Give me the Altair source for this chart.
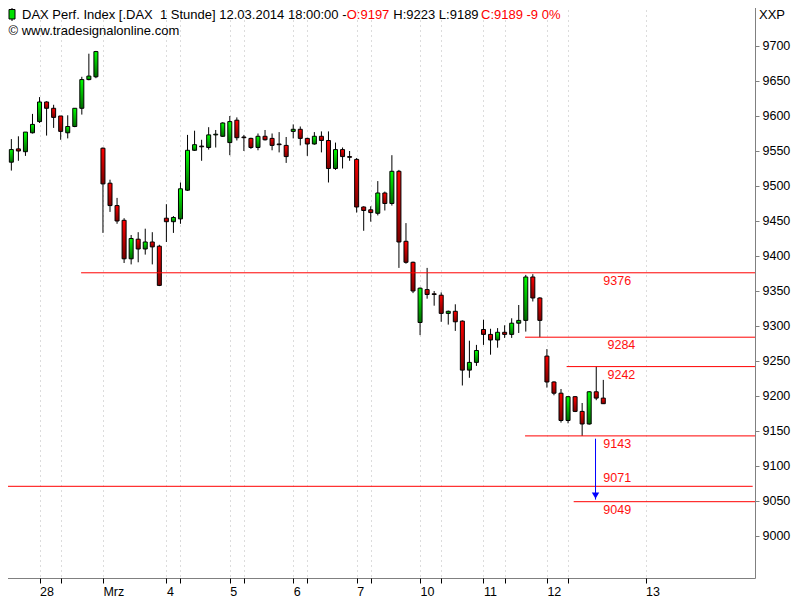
import altair as alt
import pandas as pd

# ---- candle data (hourly DAX) ----
opens = [9513, 9534, 9553, 9549, 9576, 9592, 9620, 9611, 9600, 9576, 9585, 9611, 9652, 9656,
         9554, 9504, 9472, 9451, 9396, 9424, 9410, 9420, 9414,
         9454, 9449, 9453, 9494, 9551, 9557, 9555, 9573, 9571,
         9562, 9594, 9570, 9568, 9555, 9571, 9568, 9560, 9558,
         9578, 9581, 9568, 9560, 9571, 9565, 9525, 9552, 9542,
         9538, 9470, 9466, 9461, 9490, 9475, 9521, 9421, 9391,
         9305, 9352, 9346, 9344, 9318, 9321, 9307, 9237, 9248,
         9295, 9288, 9280, 9291, 9288, 9304, 9308, 9370, 9340,
         9257, 9220, 9204, 9165, 9199, 9178, 9160, 9206, 9197]
highs = [9535, 9567, 9571, 9577, 9603, 9627, 9621, 9616, 9600, 9601, 9611, 9656, 9689, 9693,
         9555, 9509, 9483, 9454, 9430, 9434, 9439, 9434, 9416,
         9474, 9457, 9505, 9573, 9579, 9566, 9584, 9580, 9591,
         9600, 9598, 9573, 9569, 9575, 9580, 9575, 9577, 9570,
         9588, 9585, 9569, 9577, 9578, 9578, 9562, 9555, 9550,
         9540, 9471, 9471, 9507, 9492, 9544, 9523, 9447, 9392,
         9355, 9383, 9350, 9348, 9322, 9331, 9308, 9279, 9273,
         9309, 9296, 9297, 9301, 9311, 9330, 9373, 9374, 9341,
         9267, 9221, 9210, 9200, 9200, 9190, 9207, 9242, 9223]
lows = [9510, 9522, 9536, 9543, 9575, 9590, 9572, 9583, 9566, 9568, 9584, 9602, 9651, 9654,
        9433, 9463, 9446, 9390, 9388, 9391, 9402, 9388, 9357,
        9420, 9433, 9446, 9493, 9550, 9536, 9552, 9555, 9570,
        9544, 9565, 9550, 9553, 9551, 9565, 9551, 9548, 9533,
        9568, 9558, 9543, 9559, 9548, 9505, 9523, 9525, 9536,
        9462, 9436, 9449, 9458, 9465, 9472, 9383, 9389, 9347,
        9287, 9339, 9329, 9306, 9302, 9293, 9215, 9226, 9243,
        9273, 9259, 9269, 9283, 9283, 9290, 9292, 9335, 9284,
        9212, 9201, 9162, 9161, 9177, 9143, 9159, 9194, 9189]
closes = [9534, 9552, 9550, 9577, 9588, 9620, 9611, 9598, 9578, 9585, 9611, 9652, 9657, 9692,
          9503, 9472, 9450, 9396, 9425, 9410, 9420, 9413, 9358,
          9449, 9455, 9496, 9551, 9559, 9556, 9573, 9574, 9590,
          9592, 9569, 9569, 9555, 9571, 9566, 9558, 9559, 9542,
          9581, 9568, 9560, 9571, 9565, 9525, 9552, 9542, 9541,
          9470, 9465, 9462, 9490, 9475, 9521, 9420, 9391, 9350,
          9354, 9345, 9345, 9318, 9321, 9306, 9237, 9248, 9265,
          9288, 9280, 9291, 9288, 9304, 9308, 9370, 9340, 9308,
          9220, 9204, 9165, 9199, 9178, 9160, 9206, 9197, 9189]

# ---- axis ticks (candle index of day start, and secondary ticks) ----
day_ticks = [5, 14, 23, 32, 41, 50, 59, 68, 77, 91]
day_labels = ["28", "Mrz", "4", "5", "6", "7", "10", "11", "12", "13"]
minor_ticks = [8, 25, 34, 43, 52, 62, 71, 80]
price_ticks = list(range(9000, 9701, 50))

# ---- support / resistance levels ----
levels = [9376, 9284, 9242, 9143, 9071, 9049]
level_start = [10.9, 73.9, 79.8, 73.9, -0.61, 80.8]
level_end = [106.53, 106.53, 106.53, 106.53, 106.2, 106.53]
label_at = [85.0, 85.6, 85.6, 85.0, 85.0, 85.0]
label_side = ["below", "below", "below", "below", "above", "below"]

# ---- projection arrow ----
arrow_at = [83.9]
arrow_from = [9139]
arrow_to = [9052]

n = len(opens)
df = pd.DataFrame({"i": list(range(n)), "open": opens, "high": highs,
                   "low": lows, "close": closes})
lv = pd.DataFrame({"level": levels, "start": level_start, "end": level_end,
                   "lx": label_at, "side": label_side,
                   "label": [str(v) for v in levels]})
ar = pd.DataFrame({"i": arrow_at, "from": arrow_from, "to": arrow_to})

FONT = "Liberation Sans"
xdom = [-0.61, 106.53]
ydom = [8940, 9765.7]
xs = alt.Scale(domain=xdom, nice=False, zero=False, padding=0)
ys = alt.Scale(domain=ydom, nice=False, zero=False, padding=0)

expr = "''"
for t, l in reversed(list(zip(day_ticks, day_labels))):
    expr = f"datum.value == {t} ? '{l}' : ({expr})"

xaxis = alt.Axis(values=sorted(day_ticks + minor_ticks), labelExpr=expr, title=None,
                 orient="bottom", labelAlign="left", labelFlush=False, labelOverlap=False,
                 tickSize=5, tickColor="black", grid=True, gridDash=[1, 4],
                 gridColor="#b8b8b8", domain=False, labelPadding=2,
                 labelFont=FONT, labelFontSize=12.5, labelColor="black")
yaxis = alt.Axis(values=price_ticks, orient="right", title=None, tickSize=4, format="d",
                 tickColor="#808080", grid=False, domain=False, labelPadding=3,
                 labelFont=FONT, labelFontSize=12.5, labelColor="black")

base = alt.Chart(df).encode(x=alt.X("i:Q", scale=xs, axis=xaxis))

wicks = base.mark_rule(color="black", strokeWidth=1).encode(
    y=alt.Y("low:Q", scale=ys, axis=yaxis), y2="high:Q")

green = alt.Gradient(gradient="linear", x1=0, x2=0, y1=0, y2=1,
                     stops=[alt.GradientStop(color="#00ff00", offset=0),
                            alt.GradientStop(color="#006a00", offset=1)])
red = alt.Gradient(gradient="linear", x1=0, x2=0, y1=0, y2=1,
                   stops=[alt.GradientStop(color="#ff0000", offset=0),
                          alt.GradientStop(color="#7a0000", offset=1)])

up = base.transform_filter("datum.close >= datum.open").mark_bar(
    size=4, fill=green, stroke="black", strokeWidth=1).encode(
    y=alt.Y("open:Q", scale=ys), y2="close:Q")
down = base.transform_filter("datum.close < datum.open").mark_bar(
    size=4, fill=red, stroke="black", strokeWidth=1).encode(
    y=alt.Y("open:Q", scale=ys), y2="close:Q")

lvbase = alt.Chart(lv)
lines = lvbase.mark_rule(color="#ff0000", strokeWidth=1).encode(
    x=alt.X("start:Q", scale=xs), x2="end:Q", y=alt.Y("level:Q", scale=ys))
lab_below = lvbase.transform_filter("datum.side == 'below'").mark_text(
    align="left", baseline="middle", dy=8, color="#ff1010", font=FONT, fontSize=12.5).encode(
    x=alt.X("lx:Q", scale=xs), y=alt.Y("level:Q", scale=ys), text="label:N")
lab_above = lvbase.transform_filter("datum.side == 'above'").mark_text(
    align="left", baseline="middle", dy=-8, color="#ff1010", font=FONT, fontSize=12.5).encode(
    x=alt.X("lx:Q", scale=xs), y=alt.Y("level:Q", scale=ys), text="label:N")

arbase = alt.Chart(ar)
arrow_line = arbase.mark_rule(color="#0000ff", strokeWidth=1).encode(
    x=alt.X("i:Q", scale=xs), y=alt.Y("from:Q", scale=ys), y2="to:Q")
arrow_head = arbase.mark_point(shape="triangle-down", filled=True, color="#0000ff",
                               size=55, opacity=1).encode(
    x=alt.X("i:Q", scale=xs), y=alt.Y("to:Q", scale=ys), yOffset=alt.value(-4))

# ---- header texts ----
hdr = pd.DataFrame({"t": [0]})
def htext(s, x, y, color):
    return alt.Chart(hdr).mark_text(text=s, align="left", baseline="middle",
                                    font=FONT, fontSize=13, color=color).encode(
        x=alt.value(x), y=alt.value(y))

icon_wick = alt.Chart(hdr).mark_rule(color="black").encode(
    x=alt.value(12), y=alt.value(8), y2=alt.value(21))
icon_body = alt.Chart(hdr).mark_rect(fill="#00e000", stroke="black", strokeWidth=1).encode(
    x=alt.value(9), x2=alt.value(15), y=alt.value(9.5), y2=alt.value(19))

header = [
    icon_wick, icon_body,
    htext("DAX Perf. Index [.DAX\u00a0\u00a01 Stunde] 12.03.2014 18:00:00 -", 22, 14.5, "black"),
    htext("O:9197", 346.7, 14.5, "#ff0000"),
    htext("H:9223 L:9189", 393.3, 14.5, "black"),
    htext("C:9189 -9 0%", 481, 14.5, "#ff0000"),
    htext("\u00a9 www.tradesignalonline.com", 8.5, 30.5, "black"),
    htext("XXP", 759, 14.5, "black"),
]

chart = alt.layer(wicks, up, down, lines, lab_below, lab_above, arrow_line, arrow_head,
                  *header).properties(
    width=755, height=578,
    autosize=alt.AutoSizeParams(type="none"),
    padding={"left": -8, "top": -8, "right": 37, "bottom": 22},
    background="white",
).configure_view(stroke="#808080", strokeWidth=1)

chart.save("out.html", embed_options={"renderer": "svg", "actions": False})
